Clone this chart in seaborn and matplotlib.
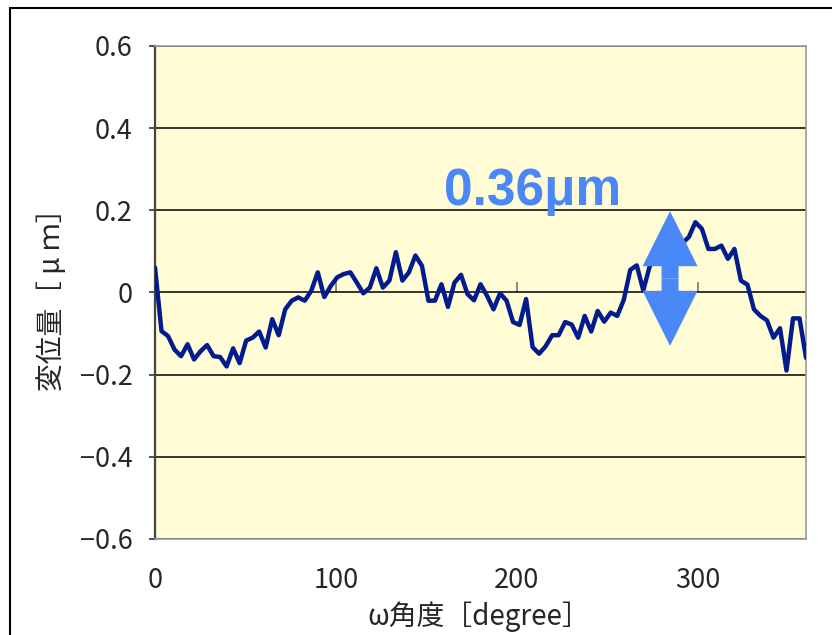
import matplotlib

matplotlib.use("Agg")
import matplotlib.patches as mpatches
import matplotlib.pyplot as plt
import pandas as pd
import seaborn as sns

# sampled angle [degree] and displacement [um]
ANGLES = [
    0, 3.6, 7.2, 10.8, 14.4, 18, 21.6, 25.2, 28.8, 32.4,
    36, 39.6, 43.2, 46.8, 50.4, 54, 57.6, 61.2, 64.8, 68.4,
    72, 75.6, 79.2, 82.8, 86.4, 90, 93.6, 97.2, 100.8, 104.4,
    108, 111.6, 115.2, 118.8, 122.4, 126, 129.6, 133.2, 136.8, 140.4,
    144, 147.6, 151.2, 154.8, 158.4, 162, 165.6, 169.2, 172.8, 176.4,
    180, 183.6, 187.2, 190.8, 194.4, 198, 201.6, 205.2, 208.8, 212.4,
    216, 219.6, 223.2, 226.8, 230.4, 234, 237.6, 241.2, 244.8, 248.4,
    252, 255.6, 259.2, 262.8, 266.4, 270, 273.6, 277.2, 280.8, 284.4,
    288, 291.6, 295.2, 298.8, 302.4, 306, 309.6, 313.2, 316.8, 320.4,
    324, 327.6, 331.2, 334.8, 338.4, 342, 345.6, 349.2, 352.8, 356.4,
    360,
]
DISPLACEMENT = [
    0.061, -0.094, -0.106, -0.139, -0.155, -0.126, -0.163, -0.143, -0.128, -0.155,
    -0.157, -0.180, -0.136, -0.172, -0.117, -0.110, -0.095, -0.134, -0.065, -0.104,
    -0.041, -0.020, -0.012, -0.020, 0.004, 0.049, -0.011, 0.016, 0.037, 0.045,
    0.049, 0.024, -0.002, 0.012, 0.059, 0.012, 0.029, 0.098, 0.029, 0.049,
    0.090, 0.065, -0.020, -0.020, 0.020, -0.035, 0.024, 0.043, -0.004, -0.019,
    0.020, -0.008, -0.041, -0.002, -0.020, -0.072, -0.079, -0.016, -0.133, -0.149,
    -0.131, -0.104, -0.104, -0.072, -0.078, -0.110, -0.057, -0.095, -0.045, -0.071,
    -0.049, -0.057, -0.018, 0.055, 0.066, 0.005, 0.065, 0.080, 0.100, 0.090,
    0.110, 0.120, 0.135, 0.171, 0.155, 0.106, 0.106, 0.114, 0.082, 0.106,
    0.029, 0.019, -0.041, -0.057, -0.068, -0.110, -0.087, -0.190, -0.063, -0.063,
    -0.159,
]

YTICKS = [-0.6, -0.4, -0.2, 0, 0.2, 0.4, 0.6]
YTICK_LABELS = ["−0.6", "−0.4", "−0.2", "0", "0.2", "0.4", "0.6"]
XTICKS = [0, 100, 200, 300]
XTICK_LABELS = ["0", "100", "200", "300"]

X_LABEL = "ω角度［degree］"
Y_LABEL = "変位量［ μ ｍ］"
PEAK_LABEL = "0.36μm"

LINE_COLOR = "#021C8E"
ACCENT = "#4A88F8"
PLOT_BG = "#FFFCD6"

sns.set_theme(style="white")
plt.rcParams["font.family"] = ["Noto Sans CJK JP", "DejaVu Sans"]
plt.rcParams["axes.unicode_minus"] = True

df = pd.DataFrame({"angle": ANGLES, "disp": DISPLACEMENT})

fig = plt.figure(figsize=(8.32, 6.35), dpi=100)
ax = fig.add_axes([0.1863, 0.1512, 0.7825, 0.7764])
ax.set_facecolor(PLOT_BG)

ax.yaxis.grid(True, color="black", linewidth=1.1)
ax.set_axisbelow(True)

sns.lineplot(data=df, x="angle", y="disp", ax=ax, color=LINE_COLOR,
             linewidth=3.2, zorder=3)

ax.set_xlim(0, 360)
ax.set_ylim(-0.6, 0.6)
ax.set_yticks(YTICKS)
ax.set_yticklabels(YTICK_LABELS)
ax.set_xticks(XTICKS)
ax.set_xticklabels(XTICK_LABELS)
ax.tick_params(axis="y", direction="out", length=4, width=1.2, color="#333333",
               left=True, pad=12, labelsize=19.5)
ax.tick_params(axis="x", length=0, pad=20, labelsize=19.5)
ax.set_xlabel("")
ax.set_ylabel("")

for side, sp in ax.spines.items():
    sp.set_visible(True)
    sp.set_color("#999999")
    sp.set_linewidth(1.2)
ax.spines["left"].set_color("#444444")
ax.spines["left"].set_linewidth(1.6)

# small tick marks on the zero line, like the Excel category axis
sec = ax.secondary_xaxis(0.5)
sec.set_xticks(XTICKS)
sec.tick_params(axis="x", direction="out", length=7, width=1.2, color="#777777",
                labeltop=False, labelbottom=False)
for sp in sec.spines.values():
    sp.set_visible(False)

# peak-to-peak marker
mid_x, mid_y = 284.8, 0.034
half_len, head_len = 0.164, 0.134
for sign in (1, -1):
    ax.add_patch(mpatches.FancyArrow(
        mid_x, mid_y, 0, sign * half_len, width=9.4, head_width=30.4,
        head_length=head_len, length_includes_head=True,
        color=ACCENT, linewidth=0, zorder=4))
ax.text(209, 0.245, PEAK_LABEL, color=ACCENT, fontsize=37, fontweight="bold",
        family=["Liberation Sans", "DejaVu Sans"], ha="center", va="center",
        zorder=5)

fig.text(0.063, 0.539, Y_LABEL, rotation=90, ha="center", va="center",
         fontsize=20)
fig.text(0.575, 0.004, X_LABEL, ha="center", va="bottom", fontsize=20)

# outer chart frame (cut by the image edge)
fig.add_artist(mpatches.Rectangle((0.012, -0.5), 2.0, 1.4874,
                                  transform=fig.transFigure, fill=False,
                                  edgecolor="black", linewidth=1.5))

fig.savefig("out.png", dpi=100)
